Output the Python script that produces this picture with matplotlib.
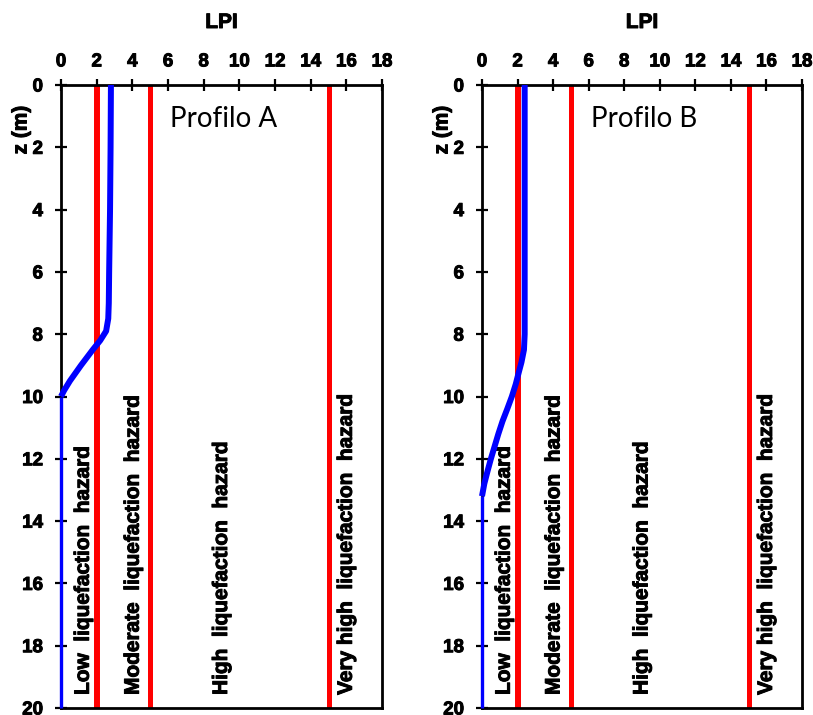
import matplotlib
matplotlib.use("Agg")
import matplotlib.pyplot as plt
import matplotlib.patheffects as pe

# LPI profiles vs depth (z in metres)
depth_a = [0, 2, 4, 6, 7.0, 7.5, 7.9, 8.2, 8.5, 9.0, 9.5, 9.8, 10.0]
lpi_a = [2.8, 2.78, 2.75, 2.7, 2.68, 2.65, 2.53, 2.2, 1.78, 1.12, 0.5, 0.18, 0.0]
depth_b = [0, 2, 4, 6, 8, 8.5, 8.9, 9.2, 9.6, 10.0, 10.4, 10.8, 11.2, 11.6,
           12.0, 12.4, 12.8, 13.2]
lpi_b = [2.4, 2.4, 2.4, 2.4, 2.4, 2.36, 2.22, 2.08, 1.9, 1.68, 1.42, 1.15,
         0.92, 0.71, 0.5, 0.31, 0.13, 0.0]
max_depth = 20

# hazard class thresholds and labels
thresholds = [2, 5, 15]
threshold_widths = [4.3, 3.6, 3.6]
zone_labels = ["Low  liquefaction  hazard",
               "Moderate  liquefaction  hazard",
               "High  liquefaction  hazard",
               "Very high  liquefaction  hazard"]
zone_label_x = [1.25, 4.05, 9.0, 16.0]

x_ticks = list(range(0, 19, 2))
y_ticks = list(range(0, 21, 2))
profile_names = ["Profilo A", "Profilo B"]

BOLD = {"family": ["Liberation Sans", "DejaVu Sans"], "weight": "bold"}
HEAVY = [pe.withStroke(linewidth=0.7, foreground="black")]

fig = plt.figure(figsize=(8.13, 7.15), dpi=100)
W, H = 813, 715
panels = [(61, 382), (482, 802)]
top_px, bot_px = 85, 708

profiles = [(depth_a, lpi_a), (depth_b, lpi_b)]
for (x0, x1), (dep, lpi), name in zip(panels, profiles, profile_names):
    ax = fig.add_axes([x0 / W, 1 - bot_px / H, (x1 - x0) / W, (bot_px - top_px) / H])
    ax.set_xlim(0, 18)
    ax.set_ylim(20, 0)

    for t, lw in zip(thresholds, threshold_widths):
        ax.plot([t, t], [0, max_depth], color="#ff0000", lw=lw, zorder=2,
                solid_capstyle="butt")

    ax.plot(lpi, dep, color="#0000ff", lw=4.3, zorder=4, clip_on=False,
            solid_capstyle="butt", solid_joinstyle="round")
    ax.plot([0, 0], [dep[-1], max_depth], color="#0000ff", lw=2.4, zorder=4,
            clip_on=False, solid_capstyle="butt")

    for xl, lab in zip(zone_label_x, zone_labels):
        ax.text(xl, 19.58, lab, rotation=90, ha="center", va="bottom",
                fontsize=15, path_effects=HEAVY, **BOLD)

    ax.text(9.1, 1.1, name, ha="center", va="center", fontsize=20,
            family="Lato")

    ax.xaxis.tick_top()
    ax.set_xticks(x_ticks)
    ax.set_yticks(y_ticks)
    ax.tick_params(axis="x", top=True, bottom=False, direction="inout",
                   length=9, width=1.6, pad=6, labelsize=13.5)
    ax.tick_params(axis="y", left=True, right=False, direction="inout",
                   length=9, width=1.6, pad=8.5, labelsize=13.5)
    for lbl in ax.get_xticklabels() + ax.get_yticklabels():
        lbl.set_fontfamily(["Liberation Sans", "DejaVu Sans"])
        lbl.set_fontweight("bold")
        lbl.set_path_effects(HEAVY)
    for sp in ax.spines.values():
        sp.set_linewidth(2)
        sp.set_color("black")

    cx = (x0 + x1) / 2 / W
    fig.text(cx, 1 - 22.5 / H, "LPI", ha="center", va="center", fontsize=15,
             path_effects=HEAVY, **BOLD)
    fig.text((x0 - 40) / W, 1 - 130 / H, "z (m)", rotation=90, ha="center",
             va="center", fontsize=15, path_effects=HEAVY, **BOLD)

fig.savefig("out.png", dpi=100)
